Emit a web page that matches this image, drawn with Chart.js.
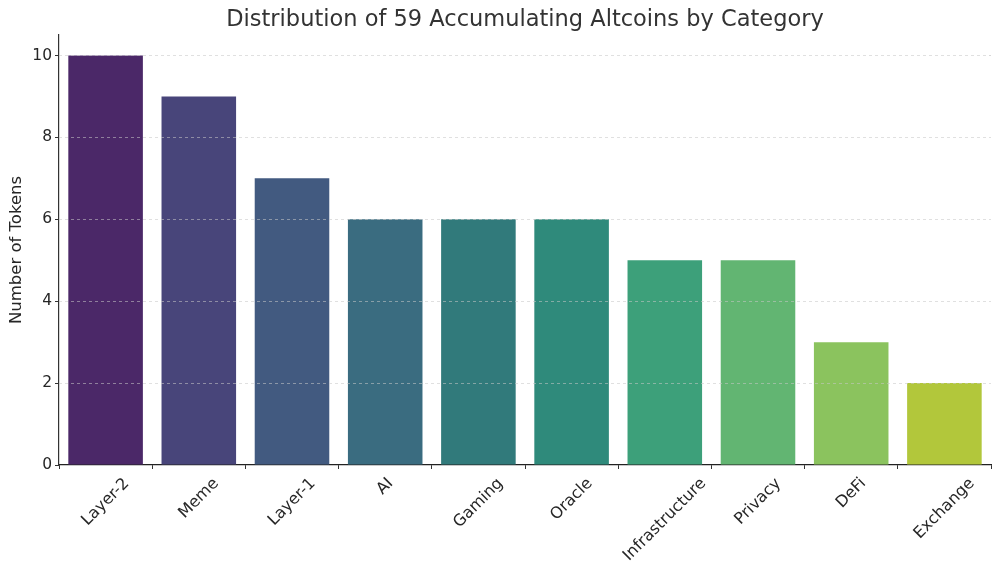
<!DOCTYPE html>
<html>
<head>
<meta charset="utf-8">
<script src="https://cdn.jsdelivr.net/npm/chart.js@4"></script>
<style>
  html, body { margin: 0; padding: 0; background: #ffffff; }
  #wrap { width: 1000px; height: 566px; }
</style>
</head>
<body>
<div id="wrap"><canvas id="c" width="1000" height="566"></canvas></div>
<script>
const categories = ["Layer-2", "Meme", "Layer-1", "AI", "Gaming", "Oracle", "Infrastructure", "Privacy", "DeFi", "Exchange"];
const tokenCounts = [10, 9, 7, 6, 6, 6, 5, 5, 3, 2];
const barColors = ["#4b2868", "#48457a", "#425a80", "#3a6c80", "#317a7b", "#2f8a7b", "#3da07a", "#62b572", "#8bc35e", "#b2c73b"];
const titleText = "Distribution of 59 Accumulating Altcoins by Category";
const yAxisTitle = "Number of Tokens";

const FONT = "'DejaVu Sans', 'Liberation Sans', sans-serif";

// dashed horizontal grid drawn over the bars (as in the reference)
const overGrid = {
  id: 'overGrid',
  afterDatasetsDraw(chart) {
    const ctx = chart.ctx;
    const ys = chart.scales.y;
    const area = chart.chartArea;
    ctx.save();
    ctx.strokeStyle = "rgba(200,200,200,0.7)";
    ctx.lineWidth = 0.8;
    ctx.setLineDash([3, 3]);
    ys.ticks.forEach(t => {
      if (t.value === 0) return;
      const y = Math.round(ys.getPixelForValue(t.value)) + 0.5;
      ctx.beginPath();
      ctx.moveTo(area.left, y);
      ctx.lineTo(area.right, y);
      ctx.stroke();
    });
    ctx.restore();
  }
};

const rotatedLabels = {
  id: 'rotatedLabels',
  afterDraw(chart) {
    const ctx = chart.ctx;
    const xs = chart.scales.x;
    const top = chart.chartArea.bottom + 10;
    ctx.save();
    ctx.font = "16px " + FONT;
    ctx.fillStyle = "#262626";
    chart.data.labels.forEach((lab, i) => {
      const x = xs.getPixelForTick(i);
      const w = ctx.measureText(lab).width;
      const h = 17;
      const side = (w + h) * Math.SQRT1_2;
      const cy = top + side / 2;
      ctx.save();
      ctx.translate(x, cy);
      ctx.rotate(-Math.PI / 4);
      ctx.textAlign = "center";
      ctx.textBaseline = "middle";
      ctx.fillText(lab, 0, 0);
      ctx.restore();
    });
    ctx.restore();
  }
};

new Chart(document.getElementById('c'), {
  type: 'bar',
  data: {
    labels: categories,
    datasets: [{
      data: tokenCounts,
      backgroundColor: barColors,
      borderWidth: 0,
      categoryPercentage: 1.0,
      barPercentage: 0.8
    }]
  },
  options: {
    responsive: false,
    animation: false,
    devicePixelRatio: 1,
    layout: { padding: { left: 0, right: 9, top: 0, bottom: 0 } },
    plugins: {
      legend: { display: false },
      tooltip: { enabled: false },
      title: {
        display: true,
        fullSize: false,
        text: titleText,
        color: "#333333",
        font: { family: FONT, size: 22.5, weight: 'normal', lineHeight: 1.2 },
        padding: { top: 7, bottom: 1 }
      }
    },
    scales: {
      x: {
        offset: true,
        grid: {
          display: true,
          drawOnChartArea: false,
          drawTicks: true,
          tickLength: 4,
          tickColor: "#333333",
          tickWidth: 1
        },
        border: { display: true, color: "#222222", width: 1.2 },
        ticks: { display: false },
        afterFit(scale) { scale.height = 101; }
      },
      y: {
        min: 0,
        max: 10.5,
        afterBuildTicks(scale) {
          scale.ticks = scale.ticks.filter(t => Math.abs(t.value % 2) < 1e-9);
        },
        ticks: {
          stepSize: 2,
          color: "#262626",
          padding: 3,
          font: { family: FONT, size: 15.5 }
        },
        grid: {
          drawOnChartArea: false,
          drawTicks: true,
          tickLength: 4,
          tickColor: "#333333",
          tickWidth: 1
        },
        border: { display: true, color: "#333333", width: 1.2 },
        title: {
          display: true,
          text: yAxisTitle,
          color: "#262626",
          font: { family: FONT, size: 16.5 },
          padding: { top: 7, bottom: 0 }
        },
        afterFit(scale) { scale.width = 59; }
      }
    }
  },
  plugins: [overGrid, rotatedLabels]
});
</script>
</body>
</html>
